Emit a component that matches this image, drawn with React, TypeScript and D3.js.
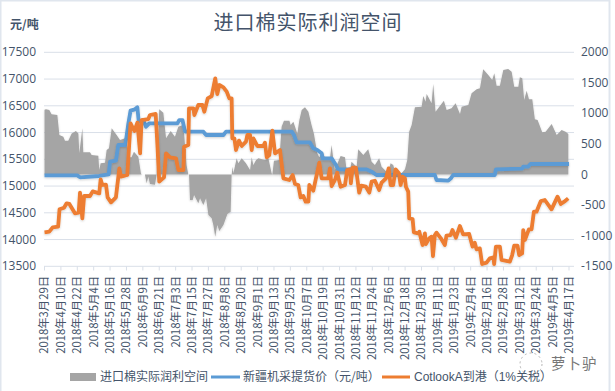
import React from "react";
import * as d3 from "d3";

const tickLabels = ["2018年3月29日","2018年4月10日","2018年4月22日","2018年5月4日","2018年5月16日","2018年5月28日","2018年6月9日","2018年6月21日","2018年7月3日","2018年7月15日","2018年7月27日","2018年8月8日","2018年8月20日","2018年9月1日","2018年9月13日","2018年9月25日","2018年10月7日","2018年10月19日","2018年10月31日","2018年11月12日","2018年11月24日","2018年12月6日","2018年12月18日","2018年12月30日","2019年1月11日","2019年1月23日","2019年2月4日","2019年2月16日","2019年2月28日","2019年3月12日","2019年3月24日","2019年4月5日","2019年4月17日"];
const leftTicks = [17500,17000,16500,16000,15500,15000,14500,14000,13500];
const rightTicks = [2000,1500,1000,500,0,-500,-1000,-1500];

const orangeDays = [0,3.5,6,10,11,14.3,16.2,18.2,22.3,25,26,27.7,29,33.3,35.3,40.1,41.1,42.3,45,46.2,48.7,52.3,54.8,56,60.6,63,65.8,68,70,71.1,76,77.2,81.4,82.6,84,87.5,89,91.9,96.3,98,101.7,102.2,105.3,105.8,109,109.7,112.6,115.6,117,119.5,122.4,125,126.5,128,131,133.4,135.3,137,137.5,139,140.2,142.4,144.4,147.5,148.5,150.5,151.7,152.9,155.8,160.2,161.4,162.7,164.6,166.8,168.8,172.4,174.9,179.3,181.7,183.4,185.8,187.5,189.5,191.2,193.2,193.9,196.8,201.2,202.9,207.7,209,210.2,212.6,214.3,216.8,220,221.6,223.6,224.3,225.6,228,230.4,232,235.3,237.8,239.5,241.9,245,246.8,250,252,253.4,255.3,257,259.5,260.7,262.2,263.9,264.6,266.3,267,269.5,270.4,273.6,274.4,276.8,278.5,279.2,281.7,283.4,284.4,285.8,287,290.2,293.1,294.3,297.3,298.7,301.2,304.1,306.5,310.9,313.4,315,316.3,318.7,320.4,323.6,326,328.7,329.2,330.5,333.4,334.6,340.7,342.4,343.9,346.3,347.5,349.7,350.5,351.7,354.6,356.6,358.3,360.2,363.4,366.3,371.2,375.6,378,380.5,383.4];
const orangeValues = [14135,14147,14228,14241,14565,14596,14677,14665,14490,14503,14876,14397,14814,14814,14901,14864,15125,15020,15026,14789,14696,14789,15331,15175,15206,16172,16029,16185,15611,16234,16253,16328,16347,15798,15082,15163,15611,15537,15518,15300,15300,15736,15767,16453,16453,16328,16515,16515,16390,16639,16683,17013,16720,16889,16845,16764,16639,16639,15892,15892,15674,15848,15749,15830,15954,15954,15674,15892,15749,15749,15811,15537,15580,16035,15611,15674,15144,15113,15206,15038,15020,14789,14814,14708,14708,15020,14914,15437,15144,15144,15331,15001,15113,15250,14988,15020,15300,15312,15051,15344,15344,14876,15007,14988,14876,15082,15100,14926,15063,15144,15331,15020,15020,15312,15238,15020,15175,15144,14988,14895,14397,14384,14135,14116,14147,13898,14116,13917,14023,14054,13692,14085,14129,14023,13898,14072,14085,14178,14035,14253,14097,14104,13867,13942,13817,13836,13543,13568,13649,13668,13543,13867,13867,13618,13587,13711,13886,13886,13711,13742,14178,13992,14191,14191,14521,14521,14721,14739,14565,14802,14665,14708,14770];

const blueDays = [0,24,26,40,47,48,52.3,54,59,59.7,61.4,63,66.2,68,69,72.3,74.3,76.7,97.3,98.7,101,102.9,116.3,118.3,131,132.9,181,182.7,184.6,194.3,196.8,199.7,202.9,203.6,210.2,213.4,215,235.8,239.5,243,285.8,287,295.6,297.5,299.2,329.7,330.5,349.7,350.5,354,355.8,384];
const blueValues = [15200,15200,15163,15188,15220,15456,15475,15767,15767,15860,16172,16409,16434,16471,16203,16234,16110,16172,16172,16234,16234,16016,16016,15954,15954,16016,16016,15954,15817,15817,15705,15674,15611,15518,15518,15393,15312,15312,15269,15207,15207,15113,15100,15144,15207,15207,15312,15325,15362,15362,15412,15412];

const areaDays = [0,1.1,3.5,5.2,9.4,10.9,13.8,15,17.4,19.9,23,24.8,25.5,27.7,28.4,33.3,34.5,39.4,40.1,41.1,44.3,45.5,47.2,49.2,52.8,55.3,59,60.6,62,63.7,65.5,68.7,70.6,71.1,73.5,74.8,76,77.2,80.9,82.1,84,87,89,92.4,95.5,98,101.2,102.2,104,105.3,105.8,106.5,108.5,109.5,112.6,113.9,116.3,118.3,120,122.4,123.6,125,126.5,128,131,133.9,136.3,137,137.8,138.3,140.7,141.9,144.4,147.5,150.5,151.7,152.9,154.9,156.6,161.4,163.9,166.3,166.8,168,171.9,173.6,175.3,179.3,180.2,182.2,185.1,186.6,188.3,190.7,193.2,195.5,197.2,199.7,201.2,203.6,206,207.7,209,210.2,211.4,212.6,215,216.8,220,221.2,222.4,223.6,224.8,228.5,229.7,233.4,237,239.5,241.9,245,246.8,250.4,251.7,253.4,255.3,257.3,261.4,263.9,265.6,267,268.8,271.2,276.1,277.3,279,279.8,283.4,284.6,286.3,289.5,292.4,294.4,298,301,304.2,305.4,310.3,312.7,316.4,318.8,321.2,324.9,327.8,329.3,331,333.4,335.9,339.5,342,343.9,346.9,348,349.8,351.2,353,354.7,357.1,359,361,364.4,366.9,371.3,375,378.6,381.5,383.5];
const areaValues = [1060,1067,1056,985,974,647,620,555,555,674,713,674,347,756,364,364,320,309,75,184,195,402,429,756,647,565,593,456,282,282,375,293,20,0,0,-143,-34,-154,-165,0,1067,1012,593,713,620,783,811,674,157,0,0,-416,-416,-334,-470,-388,-497,-388,-661,-715,-824,-1015,-824,-922,-824,-644,-606,0,129,20,266,184,266,184,75,282,157,238,266,238,266,20,0,228,238,783,882,882,811,865,674,892,1056,1100,1029,811,674,348,282,375,238,266,266,484,266,75,211,304,282,75,103,75,210,130,413,320,413,211,157,266,130,48,48,184,157,0,20,86,238,702,811,1100,1111,1285,1193,1318,1165,1482,1029,1122,1209,1056,1084,1165,991,1111,1138,1329,1394,1411,1721,1629,1547,1656,1454,1454,1710,1727,1683,1438,1438,1590,1574,1220,1373,1231,1231,904,893,691,702,828,648,730,702,664];

const x = d3.scaleLinear().domain([0, 384]).range([44.5, 569]);
const yL = d3.scaleLinear().domain([13500, 17500]).range([266.3, 52.3]);
const yR = d3.scaleLinear().domain([-1500, 2000]).range([266.3, 52.3]);
const xTick = d3.scalePoint<string>().domain(tickLabels).range([44.5, 569]);

const TEXT = "#44546a";
const FONT = "'Noto Sans CJK SC','Liberation Sans',sans-serif";
const LEGEND_FONT = "'Liberation Sans','Noto Sans CJK SC',sans-serif";
const GRID = "#d9dfe8";

const zip = (a: number[], b: number[]) => a.map((d, i) => [d, b[i]] as [number, number]);

export default function App() {
  const area = d3.area<[number, number]>().x(d => x(d[0])).y0(yR(0)).y1(d => yR(d[1]))(zip(areaDays, areaValues)) as string;
  const line = d3.line<[number, number]>().x(d => x(d[0])).y(d => yL(d[1]));
  return (
    <svg width={615} height={391} style={{ position: "absolute", left: 0, top: 0, background: "#fff" }} fontFamily={FONT}>
      <defs>
        <filter id="glow" x="-5%" y="-5%" width="110%" height="110%">
          <feDropShadow dx="0" dy="1" stdDeviation="1.2" floodColor="#000" floodOpacity="0.18" />
        </filter>
      </defs>
      <rect x={0.5} y={0.5} width={609} height={394} fill="#fff" stroke="#e0e6ee" strokeWidth={2} />
      {leftTicks.map(t => <line key={t} x1={44} x2={574} y1={yL(t)} y2={yL(t)} stroke={GRID} strokeWidth={1} />)}
      {tickLabels.map(l => <line key={l} x1={xTick(l)} x2={xTick(l)} y1={266.3} y2={270.5} stroke={GRID} />)}
      <path d={area} fill="#a5a5a5" filter="url(#glow)" />
      <path d={line(zip(blueDays, blueValues)) as string} fill="none" stroke="#5b9bd5" strokeWidth={3.8} strokeLinejoin="round" filter="url(#glow)" />
      <path d={line(zip(orangeDays, orangeValues)) as string} fill="none" stroke="#ed7d31" strokeWidth={3.8} strokeLinejoin="round" filter="url(#glow)" />
      <text x={308} y={30} textAnchor="middle" fontSize={20} fontWeight={400} fill={TEXT} letterSpacing={1}>进口棉实际利润空间</text>
      <text x={10} y={29} fontSize={12} fontWeight={700} fill={TEXT}>元/吨</text>
      {leftTicks.map(t => <text key={t} x={36} y={yL(t) + 4} textAnchor="end" fontSize={12} fill={TEXT} fontFamily="'Open Sans',sans-serif">{t}</text>)}
      {rightTicks.map(t => <text key={t} x={581} y={yR(t) + 4} fontSize={12} fill={TEXT} fontFamily="'Open Sans',sans-serif">{t}</text>)}
      {tickLabels.map(l => (
        <text key={l} transform={`translate(${xTick(l)},276) rotate(-90)`} dy="0.35em" textAnchor="end" fontSize={11.3} fill={TEXT}>{l}</text>
      ))}
      <rect x={70} y={373} width={26} height={8} fill="#a5a5a5" />
      <text x={100} y={381} fontSize={12} fill={TEXT}>进口棉实际润利空间</text>
      <line x1={211} x2={240} y1={377} y2={377} stroke="#5b9bd5" strokeWidth={3} />
      <text x={243} y={381} fontSize={12} fill={TEXT}>新疆机采提货价（元/吨）</text>
      <line x1={382} x2={410} y1={377} y2={377} stroke="#ed7d31" strokeWidth={3} />
      <text x={414} y={381} fontSize={12} fill={TEXT} fontFamily={LEGEND_FONT}>CotlookA到港（1%关税）</text>
      <circle cx={531} cy={364} r={11} fill="none" stroke="#b5b5b5" strokeDasharray="2 3" />
      <text x={551} y={369} fontSize={14.5} fill="#777" letterSpacing={1}>萝卜驴</text>
    </svg>
  );
}
